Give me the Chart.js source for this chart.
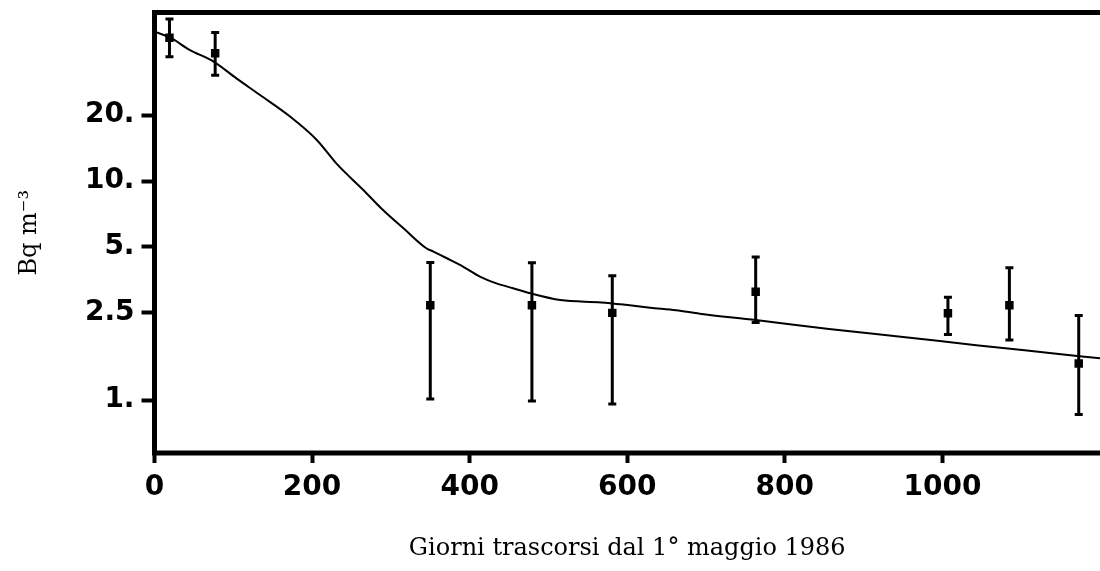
<!DOCTYPE html>
<html>
<head>
<meta charset="utf-8">
<script src="https://cdn.jsdelivr.net/npm/chart.js@4.4.1/dist/chart.umd.min.js"></script>
<style>
  html, body { margin:0; padding:0; background:#fff; overflow:hidden; }
  #wrap { width:1100px; height:571px; }
</style>
</head>
<body>
<div id="wrap"><canvas id="chart" width="1100" height="571"></canvas></div>
<script>
// --- Data ---
const days      = [19, 77, 350, 479, 581, 763, 1007, 1085, 1173];
const activity  = [45.1, 38.3, 2.71, 2.71, 2.50, 3.12, 2.49, 2.71, 1.47];
const errLow    = [36.9, 30.4, 1.01, 0.99, 0.96, 2.26, 1.99, 1.88, 0.86];
const errHigh   = [54.9, 47.7, 4.25, 4.23, 3.69, 4.50, 2.95, 4.02, 2.43];

const fitDays   = [0, 20, 45, 75, 104, 134, 172, 206, 231, 265, 290, 316, 345, 354, 371, 392, 413,
                   434, 455, 477, 515, 567, 598, 629, 662, 692, 763, 856, 950, 1043, 1136, 1200];
const fitValues = [48.1, 45.1, 39.6, 35.1, 29.4, 24.7, 19.7, 15.4, 12.0, 9.1, 7.37, 6.08, 4.93, 4.76, 4.44, 4.06, 3.66,
                   3.41, 3.24, 3.07, 2.86, 2.79, 2.72, 2.64, 2.57, 2.48, 2.32, 2.11, 1.94, 1.78, 1.64, 1.55];

const yTicks      = [1, 2.5, 5, 10, 20];
const yTickLabels = ['1.', '2.5', '5.', '10.', '20.'];
const xTicks      = [0, 200, 400, 600, 800, 1000];

// --- Plugins ---
// error bars drawn through the scales
const errorBars = {
  id: 'errorBars',
  afterDatasetsDraw(chart){
    const {ctx, scales:{x, y}} = chart;
    ctx.save();
    ctx.strokeStyle = '#000';
    ctx.lineWidth = 3;
    days.forEach((d,i)=>{
      const px = x.getPixelForValue(d);
      const top = y.getPixelForValue(errHigh[i]);
      const bot = y.getPixelForValue(errLow[i]);
      ctx.beginPath();
      ctx.moveTo(px, top); ctx.lineTo(px, bot);
      ctx.moveTo(px-4, top); ctx.lineTo(px+4, top);
      ctx.moveTo(px-4, bot); ctx.lineTo(px+4, bot);
      ctx.stroke();
    });
    ctx.restore();
  }
};

// thick frame: top, left, bottom (right side runs off the picture)
const frame = {
  id: 'frame',
  afterDraw(chart){
    const {ctx, chartArea:{left, right, top, bottom}} = chart;
    ctx.save();
    ctx.strokeStyle = '#000';
    ctx.lineWidth = 5;
    ctx.beginPath();
    ctx.moveTo(right + 5, top);
    ctx.lineTo(left, top);
    ctx.lineTo(left, bottom);
    ctx.lineTo(right + 5, bottom);
    ctx.stroke();
    ctx.restore();
  }
};

// --- Chart ---
const ctx = document.getElementById('chart').getContext('2d');
const chart = new Chart(ctx, {
  type: 'scatter',
  data: {
    datasets: [
      {
        label: 'Fit',
        data: fitDays.map((d,i)=>({x:d, y:fitValues[i]})),
        showLine: true,
        borderColor: '#000',
        borderWidth: 2,
        pointRadius: 0,
        cubicInterpolationMode: 'monotone'
      },
      {
        label: 'Misure',
        data: days.map((d,i)=>({x:d, y:activity[i]})),
        pointStyle: 'rect',
        pointRadius: 6,
        backgroundColor: '#000',
        borderColor: '#000',
        borderWidth: 0
      }
    ]
  },
  options: {
    responsive: false,
    animation: false,
    devicePixelRatio: 1,
    layout: { autoPadding: false, padding: { top: 12.5, right: 0, left: 0, bottom: 0 } },
    plugins: { legend: { display:false }, tooltip: { enabled:false } },
    scales: {
      x: {
        type: 'linear',
        min: 0, max: 1200,
        afterFit(scale){ scale.height = 118; scale.paddingLeft = 0; scale.paddingRight = 0; },
        afterBuildTicks(scale){ scale.ticks = xTicks.map(v=>({value:v})); },
        border: { display:false },
        grid: { drawOnChartArea:false, drawTicks:true, tickLength:10, tickWidth:4, tickColor:'#000' },
        ticks: {
          color:'#000', padding: 8, maxRotation: 0,
          font: { family:'"DejaVu Sans"', weight:'bold', size:28 },
          callback: (v)=>String(v)
        },
        title: {
          display:true, text:'Giorni trascorsi dal 1° maggio 1986', color:'#000',
          font: { family:'"DejaVu Serif"', size:24 },
          padding: { top:0, bottom:8 }
        }
      },
      y: {
        type: 'logarithmic',
        min: 0.573, max: 58.8,
        afterFit(scale){ scale.width = 154.5; scale.paddingTop = 0; scale.paddingBottom = 0; },
        afterBuildTicks(scale){ scale.ticks = yTicks.map(v=>({value:v})); },
        border: { display:false },
        grid: { drawOnChartArea:false, drawTicks:true, tickLength:13, tickWidth:4, tickColor:'#000' },
        ticks: {
          color:'#000', padding: 7,
          font: { family:'"DejaVu Sans"', weight:'bold', size:28 },
          callback: (v)=>{ const k = yTicks.indexOf(v); return k >= 0 ? yTickLabels[k] : ''; }
        },
        title: {
          display:true, text:'Bq m⁻³', color:'#000',
          font: { family:'"DejaVu Serif"', size:24 },
          padding: { top:15, bottom:0 }
        }
      }
    }
  },
  plugins: [errorBars, frame]
});
</script>
</body>
</html>
